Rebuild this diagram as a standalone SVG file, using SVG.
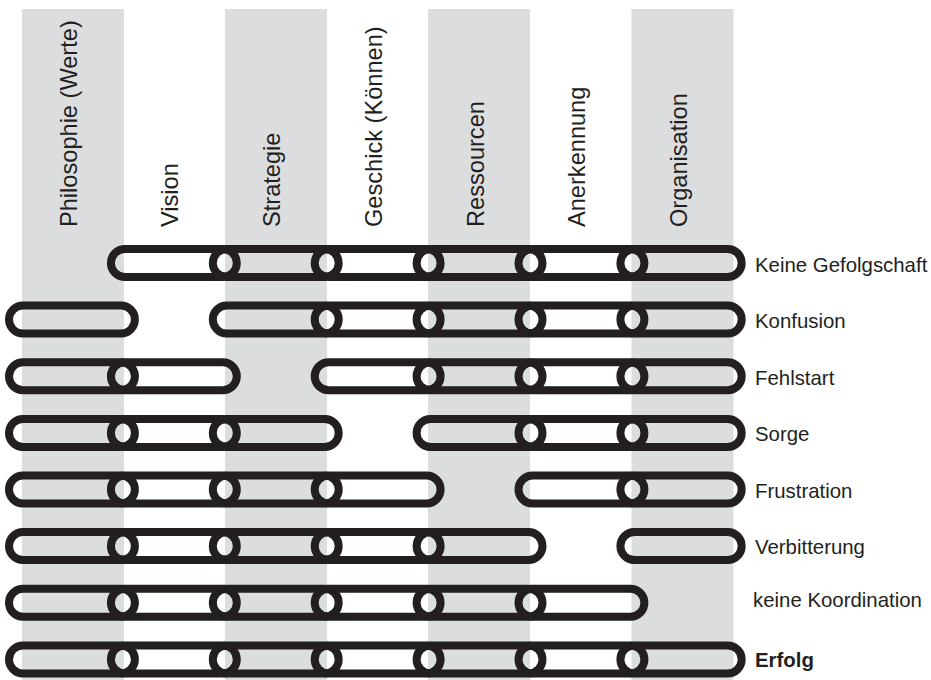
<svg xmlns="http://www.w3.org/2000/svg" width="931" height="680" viewBox="0 0 931 680">
<style>
.stripe{fill:#dcdddf}
.hd{font-family:"Liberation Sans",Arial,sans-serif;font-size:23.6px;fill:#231f20}
.lb{font-family:"Liberation Sans",Arial,sans-serif;font-size:20.4px;fill:#231f20}
.lk{fill:none;stroke:#231f20;stroke-width:8}
</style>
<defs>
<rect id="L" class="lk" x="0" y="-14" width="125.9" height="28" rx="14" ry="14"/>
<rect id="Llast" class="lk" x="0" y="-14" width="121.3" height="28" rx="14" ry="14"/>
</defs>
<rect width="931" height="680" fill="#ffffff"/>
<g id="stripes">
<rect class="stripe" x="22" y="9" width="102" height="671"/>
<rect class="stripe" x="225" y="9" width="102" height="671"/>
<rect class="stripe" x="428" y="9" width="102" height="671"/>
<rect class="stripe" x="631.5" y="9" width="102" height="671"/>
</g>
<g id="headers">
<text class="hd" transform="translate(77,227) rotate(-90)">Philosophie (Werte)</text>
<text class="hd" transform="translate(178,227) rotate(-90)">Vision</text>
<text class="hd" transform="translate(280,227) rotate(-90)">Strategie</text>
<text class="hd" transform="translate(382,227) rotate(-90)">Geschick (Können)</text>
<text class="hd" transform="translate(484,227) rotate(-90)">Ressourcen</text>
<text class="hd" transform="translate(585,227) rotate(-90)">Anerkennung</text>
<text class="hd" transform="translate(687,227) rotate(-90)">Organisation</text>
</g>
<g id="connectors">
<g id="row1" transform="translate(0,263)">
<use href="#L" x="110.9"/><use href="#L" x="212.8"/><use href="#L" x="314.7"/><use href="#L" x="416.6"/><use href="#L" x="518.5"/><use href="#Llast" x="620.4"/>
</g>
<g id="row2" transform="translate(0,319.6)">
<use href="#L" x="9"/><use href="#L" x="212.8"/><use href="#L" x="314.7"/><use href="#L" x="416.6"/><use href="#L" x="518.5"/><use href="#Llast" x="620.4"/>
</g>
<g id="row3" transform="translate(0,376.3)">
<use href="#L" x="9"/><use href="#L" x="110.9"/><use href="#L" x="314.7"/><use href="#L" x="416.6"/><use href="#L" x="518.5"/><use href="#Llast" x="620.4"/>
</g>
<g id="row4" transform="translate(0,432.9)">
<use href="#L" x="9"/><use href="#L" x="110.9"/><use href="#L" x="212.8"/><use href="#L" x="416.6"/><use href="#L" x="518.5"/><use href="#Llast" x="620.4"/>
</g>
<g id="row5" transform="translate(0,489.5)">
<use href="#L" x="9"/><use href="#L" x="110.9"/><use href="#L" x="212.8"/><use href="#L" x="314.7"/><use href="#L" x="518.5"/><use href="#Llast" x="620.4"/>
</g>
<g id="row6" transform="translate(0,546.1)">
<use href="#L" x="9"/><use href="#L" x="110.9"/><use href="#L" x="212.8"/><use href="#L" x="314.7"/><use href="#L" x="416.6"/><use href="#Llast" x="620.4"/>
</g>
<g id="row7" transform="translate(0,602.8)">
<use href="#L" x="9"/><use href="#L" x="110.9"/><use href="#L" x="212.8"/><use href="#L" x="314.7"/><use href="#L" x="416.6"/><use href="#L" x="518.5"/>
</g>
<g id="row8" transform="translate(0,659.4)">
<use href="#L" x="9"/><use href="#L" x="110.9"/><use href="#L" x="212.8"/><use href="#L" x="314.7"/><use href="#L" x="416.6"/><use href="#L" x="518.5"/><use href="#Llast" x="620.4"/>
</g>
</g>
<g id="labels">
<text class="lb" x="755" y="271.5">Keine Gefolgschaft</text>
<text class="lb" x="755" y="328">Konfusion</text>
<text class="lb" x="755" y="384.5">Fehlstart</text>
<text class="lb" x="755" y="441">Sorge</text>
<text class="lb" x="755" y="497.5">Frustration</text>
<text class="lb" x="755" y="554">Verbitterung</text>
<text class="lb" x="753" y="607">keine Koordination</text>
<text class="lb" x="755" y="667" font-weight="bold">Erfolg</text>
</g>
</svg>
